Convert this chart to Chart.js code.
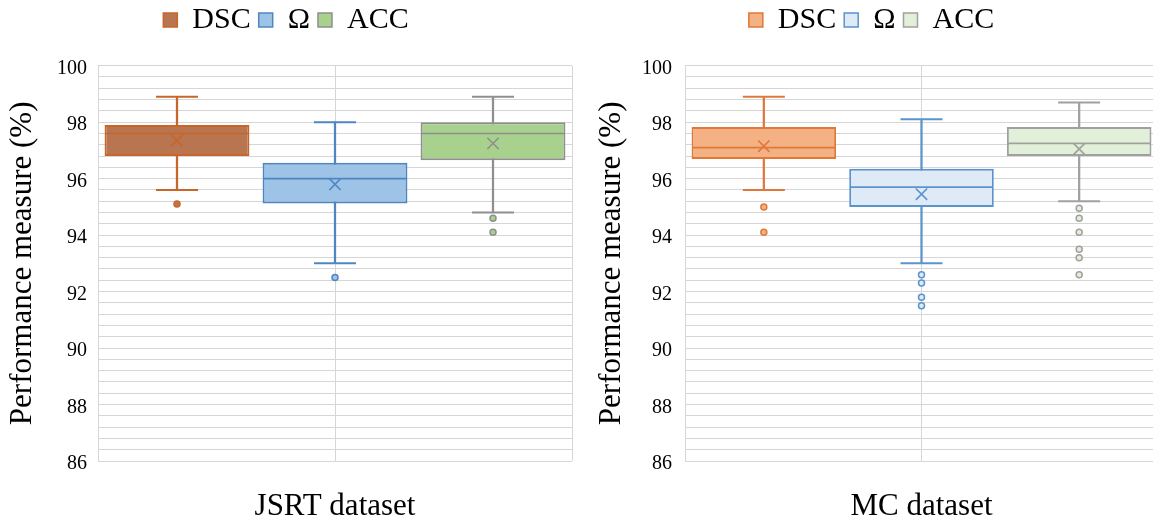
<!DOCTYPE html>
<html>
<head>
<meta charset="utf-8">
<title>Segmentation performance box plots</title>
<script src="https://cdn.jsdelivr.net/npm/chart.js@4/dist/chart.umd.min.js"></script>
<style>
  html, body { margin: 0; padding: 0; background: #ffffff; }
  body { width: 1153px; height: 524px; overflow: hidden; position: relative; }
  canvas { position: absolute; top: 0; }
</style>
</head>
<body>
<canvas id="jsrtChart" width="585" height="524" style="left:0px"></canvas>
<canvas id="mcChart" width="586" height="524" style="left:585px"></canvas>
<script>
// ---- Data -------------------------------------------------------------
const seriesNames = ['DSC', 'Ω', 'ACC'];
const datasetTitles = ['JSRT dataset', 'MC dataset'];
const yAxisTitle = 'Performance measure (%)';
const yRange = [86, 100];
const yLabelStep = 2;
const yGridStep = 0.4;

// JSRT dataset (whisker low, Q1, median, Q3, whisker high, mean, outliers)
const jsrtLow     = [95.6, 93.0, 94.8];
const jsrtQ1      = [96.8, 95.12, 96.65];
const jsrtMedian  = [97.6, 96.0, 97.6];
const jsrtQ3      = [97.9, 96.56, 98.0];
const jsrtHigh    = [98.9, 98.0, 98.9];
const jsrtMean    = [97.35, 95.8, 97.25];
const jsrtOutliers = [[95.1], [92.5], [94.6, 94.1]];

// MC dataset
const mcLow     = [95.6, 93.0, 95.2];
const mcQ1      = [96.7, 95.0, 96.8];
const mcMedian  = [97.1, 95.7, 97.25];
const mcQ3      = [97.83, 96.35, 97.83];
const mcHigh    = [98.9, 98.1, 98.7];
const mcMean    = [97.15, 95.45, 97.05];
const mcOutliers = [[95.0, 94.1], [92.6, 92.3, 91.8, 91.5], [94.95, 94.6, 94.1, 93.5, 93.2, 92.6]];

// ---- Styling ----------------------------------------------------------
const jsrtFill   = ['#B87550', '#9DC3E6', '#A9D18E'];
const jsrtStroke = ['#C8662A', '#4F86C2', '#8F8F8F'];
const mcFill     = ['#F4B183', '#DEEBF7', '#E2F0D9'];
const mcStroke   = ['#E0783A', '#5B93CC', '#A0A0A0'];

const FONT = 'Liberation Serif';
const GRID = '#D6D6D6';
const BOX_FRACTION = 0.917;

Chart.defaults.font.family = FONT;
Chart.defaults.color = '#000000';

function boxPlotDatasets(s, fill, stroke) {
  const caps = [], capColors = [];
  const outliers = [], outFill = [], outStroke = [];
  seriesNames.forEach((name, i) => {
    caps.push({ x: name, y: s.low[i] }, { x: name, y: s.high[i] });
    capColors.push(stroke[i], stroke[i]);
    s.outliers[i].forEach(v => {
      outliers.push({ x: name, y: v });
      outFill.push(fill[i]);
      outStroke.push(stroke[i]);
    });
  });
  const point = ys => ys.map((y, i) => ({ x: seriesNames[i], y }));
  return [
    { // whisker stems
      type: 'bar', order: 6, grouped: false,
      data: seriesNames.map((_, i) => [s.low[i], s.high[i]]),
      backgroundColor: stroke, borderWidth: 0, barThickness: 1.6
    },
    { // interquartile boxes
      type: 'bar', order: 5, grouped: false,
      data: seriesNames.map((_, i) => [s.q1[i], s.q3[i]]),
      backgroundColor: fill, borderColor: stroke, borderWidth: 2,
      borderSkipped: false, barPercentage: BOX_FRACTION, categoryPercentage: 1
    },
    { // medians
      type: 'line', order: 4, showLine: false,
      data: point(s.median),
      pointStyle: 'line', pointBorderColor: stroke, pointBorderWidth: 1.6,
      pointRadius: ctx => {
        const sc = ctx.chart.scales.x;
        return sc && sc.width ? sc.width / seriesNames.length * BOX_FRACTION / 2 - 1 : 0;
      }
    },
    { // whisker caps
      type: 'line', order: 3, showLine: false,
      data: caps,
      pointStyle: 'line', pointBorderColor: capColors, pointBorderWidth: 2,
      pointRadius: 21
    },
    { // means
      type: 'line', order: 2, showLine: false,
      data: point(s.mean),
      pointStyle: 'crossRot', pointBorderColor: stroke, pointBorderWidth: 1.6,
      pointRadius: 8
    },
    { // outliers
      type: 'line', order: 1, showLine: false,
      data: outliers,
      pointStyle: 'circle', pointBackgroundColor: outFill, pointBorderColor: outStroke,
      pointBorderWidth: 1.5, pointRadius: 3
    }
  ];
}

function makeChart(id, stats, fill, stroke, title, yAxisWidth, tickGap, titleGap) {
  return new Chart(document.getElementById(id), {
    type: 'bar',
    data: { labels: seriesNames, datasets: boxPlotDatasets(stats, fill, stroke) },
    options: {
      responsive: false,
      animation: false,
      devicePixelRatio: 1,
      events: [],
      layout: { autoPadding: false, padding: { top: -3, left: 0, right: 13, bottom: 0 } },
      plugins: {
        tooltip: { enabled: false },
        legend: {
          display: true,
          position: 'top',
          onClick: null,
          labels: {
            font: { family: FONT, size: 30 },
            color: '#000000',
            boxWidth: 14,
            boxHeight: 14,
            padding: 8,
            generateLabels: () => seriesNames.map((name, i) => ({
              text: name,
              fillStyle: fill[i],
              strokeStyle: stroke[i],
              lineWidth: 1.5,
              hidden: false,
              index: i
            }))
          }
        }
      },
      scales: {
        x: {
          type: 'category',
          position: 'bottom',
          grid: { display: false },
          border: { display: false },
          ticks: { display: false },
          title: {
            display: true,
            text: title,
            font: { family: FONT, size: 31, lineHeight: 1.08 },
            color: '#000000',
            padding: { top: 0, bottom: 0 }
          },
          afterFit: sc => { sc.height = 63; }
        },
        xGrid: {
          type: 'linear',
          position: 'top',
          min: 0,
          max: 2,
          offset: false,
          ticks: { display: false, stepSize: 1 },
          grid: { color: GRID, lineWidth: 1, drawTicks: false, offset: false },
          border: { display: false },
          afterFit: sc => { sc.height = 20.7; }
        },
        y: {
          type: 'linear',
          min: yRange[0],
          max: yRange[1],
          ticks: {
            stepSize: yGridStep,
            maxTicksLimit: 100,
            autoSkip: false,
            padding: tickGap,
            labelOffset: 3,
            font: { family: FONT, size: 20 },
            color: '#000000',
            callback: v => {
              const r = Math.round(v);
              return (Math.abs(v - r) < 1e-6 && r % yLabelStep === 0) ? String(r) : '';
            }
          },
          grid: { color: GRID, lineWidth: 1, drawTicks: false },
          border: { display: false },
          title: {
            display: true,
            text: yAxisTitle,
            font: { family: FONT, size: 31 },
            color: '#000000',
            padding: { top: titleGap, bottom: 0 }
          },
          afterFit: sc => { sc.width = yAxisWidth; }
        }
      }
    }
  });
}

makeChart('jsrtChart',
  { low: jsrtLow, q1: jsrtQ1, median: jsrtMedian, q3: jsrtQ3, high: jsrtHigh, mean: jsrtMean, outliers: jsrtOutliers },
  jsrtFill, jsrtStroke, datasetTitles[0], 98, 11, 4);

makeChart('mcChart',
  { low: mcLow, q1: mcQ1, median: mcMedian, q3: mcQ3, high: mcHigh, mean: mcMean, outliers: mcOutliers },
  mcFill, mcStroke, datasetTitles[1], 100, 13, 8);
</script>
</body>
</html>
